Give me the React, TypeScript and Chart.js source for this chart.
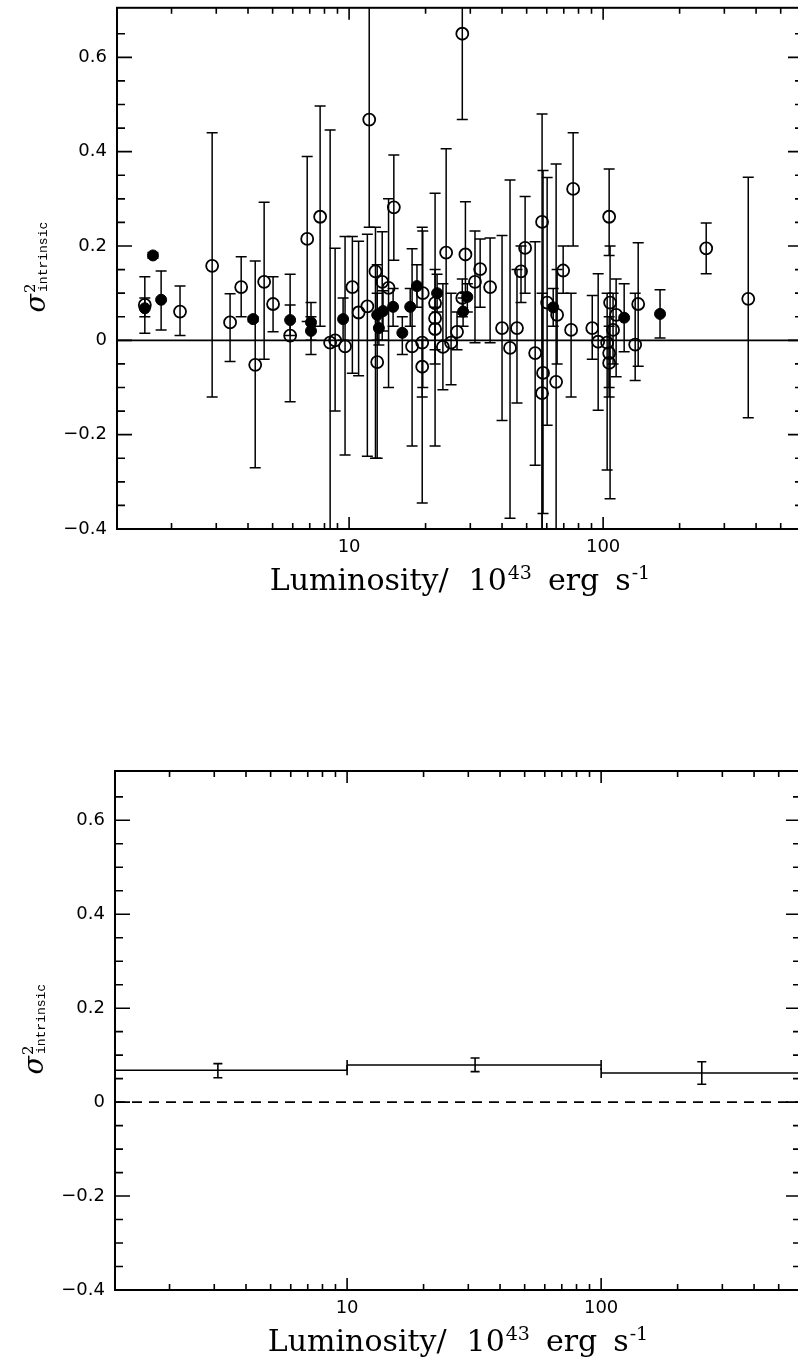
import React, { useEffect, useRef } from 'react';
import { Chart, registerables } from 'chart.js';

Chart.register(...registerables);

// ---------- axis ranges & ticks ----------
const X_MIN = 1.22;
const X_MAX = 612;
const Y_MIN = -0.4;
const Y_MAX = 0.705;

const xTicks = [2, 3, 4, 5, 6, 7, 8, 9, 10, 20, 30, 40, 50, 60, 70, 80, 90, 100, 200, 300, 400, 500, 600];
const xMajor = [10, 100];
const xTickLabels = ['10', '100'];

const yTicks = [-0.4, -0.35, -0.3, -0.25, -0.2, -0.15, -0.1, -0.05, 0, 0.05, 0.1, 0.15, 0.2, 0.25, 0.3, 0.35, 0.4, 0.45, 0.5, 0.55, 0.6, 0.65];
const yMajor = [-0.4, -0.2, 0, 0.2, 0.4, 0.6];
const yTickLabels = ['\u22120.4', '\u22120.2', '0', '0.2', '0.4', '0.6'];

const xTitle = ['Luminosity/', '10', '43', 'erg', 's', '-1'];
const yTitle = ['\u03c3', '2', 'intrinsic'];

// ---------- top panel: individual objects (open circles) ----------
const openL = [1.57, 2.16, 2.89, 3.40, 3.76, 4.27, 4.63, 5.02, 5.86, 6.84, 7.69, 8.42, 8.81, 9.64, 10.3, 10.9, 11.8, 12.0, 12.7, 12.9, 13.5, 14.3, 15.0, 17.7, 19.5, 19.4, 19.4, 21.8, 21.8, 21.8, 23.4, 24.1, 25.2, 26.6, 27.9, 27.9, 28.7, 31.3, 32.8, 35.9, 40.0, 43.0, 45.8, 47.5, 49.3, 54.0, 57.5, 57.5, 58.0, 60.2, 65.3, 65.9, 69.6, 74.8, 76.2, 90.6, 95.6, 103.7, 105.6, 105.6, 105.6, 106.5, 109.4, 112.5, 133.7, 137.4, 254.5, 372.6];
const openS = [0.075, 0.061, 0.158, 0.038, 0.113, -0.052, 0.124, 0.077, 0.010, 0.215, 0.262, -0.005, 0.000, -0.013, 0.113, 0.059, 0.072, 0.468, 0.146, -0.046, 0.124, 0.111, 0.282, -0.013, 0.100, -0.005, -0.056, 0.079, 0.047, 0.024, -0.014, 0.186, -0.005, 0.018, 0.650, 0.090, 0.182, 0.124, 0.151, 0.113, 0.026, -0.016, 0.026, 0.146, 0.196, -0.027, 0.251, -0.112, -0.069, 0.080, -0.088, 0.054, 0.148, 0.022, 0.321, 0.026, -0.003, -0.005, 0.262, -0.027, -0.048, 0.080, 0.022, 0.054, -0.009, 0.077, 0.195, 0.088];
const openLo = [0.015, 0.010, -0.120, -0.045, 0.050, -0.270, -0.040, 0.018, -0.130, 0.040, 0.030, -0.450, -0.150, -0.243, -0.070, -0.075, -0.246, 0.240, -0.250, -0.250, 0.000, -0.100, 0.170, -0.224, -0.100, -0.345, -0.120, -0.224, -0.050, -0.020, -0.105, 0.000, -0.094, -0.020, 0.468, 0.050, 0.100, -0.005, 0.070, -0.005, -0.170, -0.377, -0.133, 0.080, 0.100, -0.265, -0.450, -0.450, -0.367, -0.180, -0.450, -0.050, 0.100, -0.120, 0.200, -0.040, -0.148, -0.275, 0.180, -0.100, -0.120, -0.336, -0.050, -0.077, -0.085, -0.055, 0.141, -0.164];
const openHi = [0.135, 0.115, 0.440, 0.099, 0.177, 0.168, 0.293, 0.135, 0.140, 0.390, 0.497, 0.446, 0.195, 0.220, 0.220, 0.210, 0.225, 0.760, 0.240, 0.160, 0.230, 0.300, 0.393, 0.194, 0.232, 0.240, 0.000, 0.312, 0.150, 0.070, 0.120, 0.406, 0.100, 0.060, 0.760, 0.130, 0.294, 0.232, 0.215, 0.217, 0.222, 0.340, 0.150, 0.200, 0.305, 0.209, 0.480, 0.100, 0.360, 0.345, 0.374, 0.150, 0.200, 0.100, 0.440, 0.095, 0.141, 0.100, 0.363, 0.050, 0.030, 0.200, 0.100, 0.130, 0.100, 0.207, 0.249, 0.346];

// ---------- top panel: filled circles ----------
const filledL = [1.57, 1.69, 1.82, 4.19, 5.86, 7.08, 7.08, 9.47, 12.9, 13.6, 13.1, 14.9, 16.2, 17.4, 18.5, 22.2, 28.1, 29.2, 63.6, 121.0, 167.5];
const filledS = [0.068, 0.180, 0.086, 0.045, 0.043, 0.038, 0.020, 0.045, 0.054, 0.062, 0.026, 0.071, 0.016, 0.071, 0.115, 0.100, 0.061, 0.092, 0.070, 0.048, 0.056];
const filledLo = [0.050, 0.174, 0.022, 0.040, 0.010, 0.000, -0.030, 0.000, 0.000, 0.020, -0.010, 0.030, -0.030, 0.030, 0.070, 0.060, 0.030, 0.060, 0.030, -0.024, 0.005];
const filledHi = [0.090, 0.186, 0.147, 0.050, 0.075, 0.080, 0.050, 0.090, 0.100, 0.105, 0.060, 0.110, 0.050, 0.110, 0.160, 0.140, 0.090, 0.120, 0.110, 0.120, 0.107];

// ---------- bottom panel: binned values ----------
const binLo = [1.22, 10, 100];
const binHi = [10, 100, 612];
const binCenter = [3.1, 31.9, 249];
const binS = [0.068, 0.079, 0.062];
const binErrLo = [0.052, 0.065, 0.038];
const binErrHi = [0.082, 0.094, 0.086];

// ---------- layout (positions only) ----------
const CANVAS_W = 830;
const TOP_PANEL = { canvasTop: 0, canvasH: 620, left: 117, top: 7, right: 803, bottom: 529, zeroDash: [] as number[] };
const BOTTOM_PANEL = { canvasTop: 760, canvasH: 600, left: 115, top: 11, right: 801, bottom: 530, zeroDash: [10, 7] };

const near = (a: number, b: number) => Math.abs(a - b) < 1e-6;

function zip(xs: number[], ys: number[], lo: number[], hi: number[]) {
  return xs.map((x, i) => ({ x, y: ys[i], lo: lo[i], hi: hi[i] }));
}

function decorPlugin(cfg: any) {
  return {
    id: 'decor',
    beforeDatasetsDraw(chart: any) {
      const { ctx, chartArea: a, scales } = chart;
      const xs = scales.x;
      const ys = scales.y;
      ctx.save();
      ctx.beginPath();
      ctx.rect(a.left, a.top, a.right - a.left, a.bottom - a.top);
      ctx.clip();
      ctx.strokeStyle = '#000';
      ctx.lineWidth = 1.6;
      ctx.setLineDash(cfg.zeroDash);
      const y0 = ys.getPixelForValue(0);
      ctx.beginPath();
      ctx.moveTo(a.left, y0);
      ctx.lineTo(a.right, y0);
      ctx.stroke();
      ctx.setLineDash([]);
      chart.data.datasets.forEach((ds: any) => {
        if (ds.errorBars) {
          ctx.lineWidth = ds.errWidth || 1.5;
          const ch = ds.capHalf || 5;
          ds.data.forEach((p: any) => {
            const px = xs.getPixelForValue(p.x);
            const p1 = ys.getPixelForValue(p.lo);
            const p2 = ys.getPixelForValue(p.hi);
            ctx.beginPath();
            ctx.moveTo(px, p1);
            ctx.lineTo(px, p2);
            ctx.moveTo(px - ch, p1);
            ctx.lineTo(px + ch, p1);
            ctx.moveTo(px - ch, p2);
            ctx.lineTo(px + ch, p2);
            ctx.stroke();
          });
        }
        if (ds.binCaps) {
          ctx.lineWidth = 1.6;
          ds.data.forEach((p: any) => {
            const px = xs.getPixelForValue(p.x);
            const py = ys.getPixelForValue(p.y);
            ctx.beginPath();
            ctx.moveTo(px, py - ds.binCaps);
            ctx.lineTo(px, py + ds.binCaps);
            ctx.stroke();
          });
        }
      });
      ctx.restore();
    },
    afterDraw(chart: any) {
      const { ctx, chartArea: a, scales } = chart;
      const xs = scales.x;
      const ys = scales.y;
      ctx.save();
      ctx.strokeStyle = '#000';
      ctx.fillStyle = '#000';
      // frame
      ctx.lineWidth = 2;
      ctx.strokeRect(a.left, a.top, a.right - a.left, a.bottom - a.top);
      // inward ticks
      ctx.lineWidth = 1.6;
      ctx.beginPath();
      xTicks.forEach((v) => {
        const px = xs.getPixelForValue(v);
        const len = xMajor.some((m) => near(m, v)) ? 12 : 6;
        ctx.moveTo(px, a.bottom);
        ctx.lineTo(px, a.bottom - len);
        ctx.moveTo(px, a.top);
        ctx.lineTo(px, a.top + len);
      });
      yTicks.forEach((v) => {
        const py = ys.getPixelForValue(v);
        const len = yMajor.some((m) => near(m, v)) ? 15 : 8;
        ctx.moveTo(a.left, py);
        ctx.lineTo(a.left + len, py);
        ctx.moveTo(a.right, py);
        ctx.lineTo(a.right - len, py);
      });
      ctx.stroke();

      // x title with superscripts
      const big = '30px "DejaVu Serif"';
      const small = '19px "DejaVu Serif"';
      const pieces = [
        { t: xTitle[0], f: big, dy: 0, gap: 20 },
        { t: xTitle[1], f: big, dy: 0, gap: 1 },
        { t: xTitle[2], f: small, dy: -11, gap: 16 },
        { t: xTitle[3], f: big, dy: 0, gap: 16 },
        { t: xTitle[4], f: big, dy: 0, gap: 1 },
        { t: xTitle[5], f: small, dy: -11, gap: 0 },
      ];
      let total = 0;
      const widths = pieces.map((p) => {
        ctx.font = p.f;
        const w = ctx.measureText(p.t).width;
        total += w + p.gap;
        return w;
      });
      let x = (a.left + a.right) / 2 - total / 2;
      const base = a.bottom + 61;
      ctx.textBaseline = 'alphabetic';
      ctx.textAlign = 'left';
      pieces.forEach((p, i) => {
        ctx.font = p.f;
        ctx.fillText(p.t, x, base + p.dy);
        x += widths[i] + p.gap;
      });

      // y title, rotated
      ctx.save();
      ctx.translate(a.left - 72, (a.top + a.bottom) / 2 + 44);
      ctx.rotate(-Math.PI / 2);
      ctx.font = 'italic 27px "DejaVu Serif"';
      ctx.fillText(yTitle[0], 0, 0);
      const sw = ctx.measureText(yTitle[0]).width;
      ctx.font = '15px "DejaVu Serif"';
      ctx.fillText(yTitle[1], sw + 1, -10);
      ctx.font = '13px "Liberation Mono"';
      ctx.fillText(yTitle[2], sw + 2, 2);
      ctx.restore();

      ctx.restore();
    },
  };
}

function buildOptions(cfg: any) {
  const xAxisH = cfg.canvasH - cfg.bottom;
  return {
    animation: false,
    responsive: false,
    devicePixelRatio: 1,
    events: [],
    layout: { padding: { left: 0, top: cfg.top, right: CANVAS_W - cfg.right, bottom: 0 } },
    plugins: { legend: { display: false }, tooltip: { enabled: false }, title: { display: false } },
    scales: {
      x: {
        type: 'logarithmic',
        min: X_MIN,
        max: X_MAX,
        position: 'bottom',
        grid: { display: false, drawTicks: false },
        border: { display: false },
        afterBuildTicks: (s: any) => {
          s.ticks = xTicks.map((v) => ({ value: v, major: false }));
        },
        afterFit: (s: any) => {
          s.height = xAxisH;
          s.paddingLeft = 0;
          s.paddingRight = 0;
        },
        ticks: {
          autoSkip: false,
          maxRotation: 0,
          minRotation: 0,
          padding: 8,
          color: '#000',
          font: { family: '"DejaVu Sans"', size: 18 },
          callback: (v: any) => {
            const i = xMajor.findIndex((m) => near(m, Number(v)));
            return i >= 0 ? xTickLabels[i] : '';
          },
        },
      },
      y: {
        type: 'linear',
        min: Y_MIN,
        max: Y_MAX,
        position: 'left',
        grid: { display: false, drawTicks: false },
        border: { display: false },
        afterBuildTicks: (s: any) => {
          s.ticks = yTicks.map((v) => ({ value: v }));
        },
        afterFit: (s: any) => {
          s.width = cfg.left;
          s.paddingTop = 0;
          s.paddingBottom = 0;
        },
        ticks: {
          autoSkip: false,
          padding: 10,
          color: '#000',
          font: { family: '"DejaVu Sans"', size: 18 },
          callback: (v: any) => {
            const i = yMajor.findIndex((m) => near(m, Number(v)));
            return i >= 0 ? yTickLabels[i] : '';
          },
        },
      },
    },
  };
}

function TopPanel() {
  const ref = useRef<HTMLCanvasElement | null>(null);
  useEffect(() => {
    if (!ref.current) return;
    const chart = new Chart(ref.current, {
      type: 'scatter',
      data: {
        datasets: [
          {
            label: 'open',
            data: zip(openL, openS, openLo, openHi),
            errorBars: true,
            capHalf: 5.5,
            pointRadius: 6,
            pointBorderWidth: 1.8,
            pointBorderColor: '#000',
            pointBackgroundColor: 'rgba(0,0,0,0)',
          } as any,
          {
            label: 'filled',
            data: zip(filledL, filledS, filledLo, filledHi),
            errorBars: true,
            capHalf: 5.5,
            pointRadius: 5.5,
            pointBorderWidth: 1,
            pointBorderColor: '#000',
            pointBackgroundColor: '#000',
          } as any,
        ],
      },
      options: buildOptions(TOP_PANEL) as any,
      plugins: [decorPlugin(TOP_PANEL)],
    });
    return () => chart.destroy();
  }, []);
  return (
    <canvas
      ref={ref}
      width={CANVAS_W}
      height={TOP_PANEL.canvasH}
      style={{ position: 'absolute', left: 0, top: TOP_PANEL.canvasTop }}
    />
  );
}

function BottomPanel() {
  const ref = useRef<HTMLCanvasElement | null>(null);
  useEffect(() => {
    if (!ref.current) return;
    const binSets = binS.map((v, i) => ({
      label: 'bin' + i,
      data: [
        { x: binLo[i], y: v },
        { x: binHi[i], y: v },
      ],
      showLine: true,
      borderColor: '#000',
      borderWidth: 1.6,
      pointRadius: 0,
      binCaps: 5,
    }));
    const chart = new Chart(ref.current, {
      type: 'scatter',
      data: {
        datasets: [
          ...(binSets as any[]),
          {
            label: 'binErr',
            data: zip(binCenter, binS, binErrLo, binErrHi),
            errorBars: true,
            capHalf: 4.5,
            errWidth: 1.6,
            pointRadius: 0,
          } as any,
        ],
      },
      options: buildOptions(BOTTOM_PANEL) as any,
      plugins: [decorPlugin(BOTTOM_PANEL)],
    });
    return () => chart.destroy();
  }, []);
  return (
    <canvas
      ref={ref}
      width={CANVAS_W}
      height={BOTTOM_PANEL.canvasH}
      style={{ position: 'absolute', left: 0, top: BOTTOM_PANEL.canvasTop }}
    />
  );
}

export default function App() {
  return (
    <div
      style={{
        position: 'absolute',
        left: 0,
        top: 0,
        width: 798,
        height: 1360,
        overflow: 'hidden',
        background: '#fff',
      }}
    >
      <TopPanel />
      <BottomPanel />
    </div>
  );
}
